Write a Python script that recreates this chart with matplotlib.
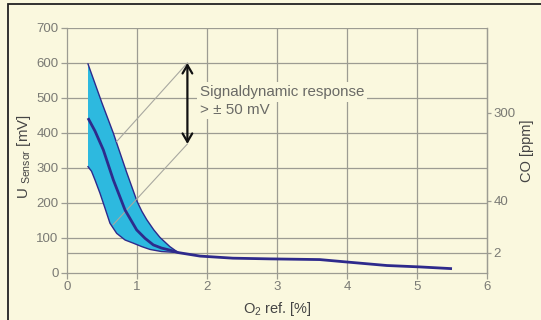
import matplotlib
matplotlib.use("Agg")
import matplotlib.pyplot as plt
from matplotlib.patches import Rectangle

plt.rcParams['font.family'] = ['Liberation Sans', 'DejaVu Sans']
plt.rcParams['mathtext.fontset'] = 'custom'
plt.rcParams['mathtext.rm'] = 'Liberation Sans'
plt.rcParams['mathtext.it'] = 'Liberation Sans'

# Data
upper_x = [0.30, 0.50, 0.66, 0.85, 1.00, 1.07, 1.14, 1.24, 1.33, 1.47, 1.59]
upper_y = [597, 485, 400, 288, 204, 175, 151, 122, 100, 74, 57]
lower_x = [0.30, 0.35, 0.40, 0.471, 0.543, 0.614, 0.71, 0.83, 0.947, 1.07, 1.186, 1.35, 1.59]
lower_y = [303, 290, 265, 227, 184, 141, 112, 93, 84, 74, 66, 60, 57]
center_x = [0.30, 0.40, 0.519, 0.662, 0.829, 0.995, 1.114, 1.233, 1.35, 1.471, 1.59,
            1.90, 2.37, 2.90, 3.61, 4.00, 4.57, 5.04, 5.50]
center_y = [442, 405, 351, 265, 179, 122, 98, 79, 70, 64, 57,
            47, 41, 39, 37, 30, 20, 16, 11]

x_ticks = [0, 1, 2, 3, 4, 5, 6]
y_ticks = [0, 100, 200, 300, 400, 500, 600, 700]
extra_line = 55
co_tick_pos = [57, 205, 457]
co_tick_labels = ['2', '40', '300']

arrow_x = 1.72
arrow_top = 600
arrow_bottom = 368
leader_upper_end = (0.71, 375)
leader_lower_end = (0.66, 137)

bg = '#FAF8DE'
grid_c = '#9C9C92'
tick_c = '#7A7A74'
band_c = '#2DB9DF'
line_c = '#2E2A8C'

fig = plt.figure(figsize=(5.41, 3.2), dpi=100, facecolor=bg)
ax = fig.add_axes([67/541, 47.5/320, 420/541, 244.5/320])
ax.set_facecolor(bg)

# frame of the figure
fig.patches.append(Rectangle((8/541, -0.02), 1.05, 1 - 4/320 + 0.02, transform=fig.transFigure,
                             fill=False, edgecolor='#222222', lw=1.3, zorder=0))

ax.set_xlim(0, 6)
ax.set_ylim(0, 700)

# grid
for xv in x_ticks[1:-1]:
    ax.axvline(xv, color=grid_c, lw=0.9, zorder=1)
for yv in y_ticks[1:]:
    ax.axhline(yv, color=grid_c, lw=0.9, zorder=1)
ax.axhline(extra_line, color=grid_c, lw=0.9, zorder=1)

ax.spines['top'].set_visible(False)
for s in ['left', 'right', 'bottom']:
    ax.spines[s].set_color(grid_c)
    ax.spines[s].set_linewidth(0.9)

ax.set_xticks(x_ticks)
ax.set_yticks(y_ticks)
ax.tick_params(axis='both', colors=grid_c, labelcolor=tick_c, labelsize=9.5, length=4,
               width=0.9, direction='out', pad=2)

# band (polygon built from the two edges)
poly_x = upper_x + lower_x[::-1]
poly_y = upper_y + lower_y[::-1]
ax.fill(poly_x, poly_y, color=band_c, lw=0, zorder=2)
ax.plot(upper_x, upper_y, color=line_c, lw=1.0, zorder=3)
ax.plot(lower_x, lower_y, color=line_c, lw=1.0, zorder=3)
ax.plot(center_x, center_y, color=line_c, lw=2.0, zorder=4, solid_capstyle='butt',
        solid_joinstyle='round')

# leader lines
ax.plot([arrow_x, leader_upper_end[0]], [arrow_top, leader_upper_end[1]], color='#A8A8A0', lw=0.8, zorder=3.5)
ax.plot([arrow_x, leader_lower_end[0]], [arrow_bottom, leader_lower_end[1]], color='#A8A8A0', lw=0.8, zorder=3.5)

# arrow
ax.annotate('', xy=(arrow_x, arrow_top), xytext=(arrow_x, arrow_bottom),
            arrowprops=dict(arrowstyle='<->,head_length=0.6,head_width=0.35', color='#111111', lw=1.6,
                            shrinkA=0, shrinkB=0), zorder=5)

# text
ax.text(1.90, 518, 'Signaldynamic response', color='#6A6A66', fontsize=10.9,
        ha='left', va='center', zorder=6,
        bbox=dict(boxstyle='square,pad=0.2', facecolor=bg, edgecolor='none'))
ax.text(1.90, 465, '> ± 50 mV', color='#6A6A66', fontsize=10.9,
        ha='left', va='center', zorder=6,
        bbox=dict(boxstyle='square,pad=0.1', facecolor=bg, edgecolor='none'))

ax.set_xlabel('O$_2$ ref. [%]', color='#444444', fontsize=10.5, labelpad=5)
ax.set_ylabel('U $_{\\rm Sensor}$ [mV]', color='#444444', fontsize=10.8)
ax.yaxis.set_label_coords(-0.08, 0.472)

# right axis
ax2 = ax.twinx()
ax2.set_ylim(0, 700)
ax2.set_yticks(co_tick_pos)
ax2.set_yticklabels(co_tick_labels)
for s in ['top', 'left', 'bottom']:
    ax2.spines[s].set_visible(False)
ax2.spines['right'].set_color(grid_c)
ax2.spines['right'].set_linewidth(0.9)
ax2.tick_params(axis='y', colors=grid_c, labelcolor=tick_c, labelsize=9.5, length=3, width=0.9, pad=1.5)
ax2.set_ylabel('CO [ppm]', color='#444444', fontsize=10.5, rotation=90, labelpad=3)

fig.savefig('out.png', dpi=100, facecolor=bg)
